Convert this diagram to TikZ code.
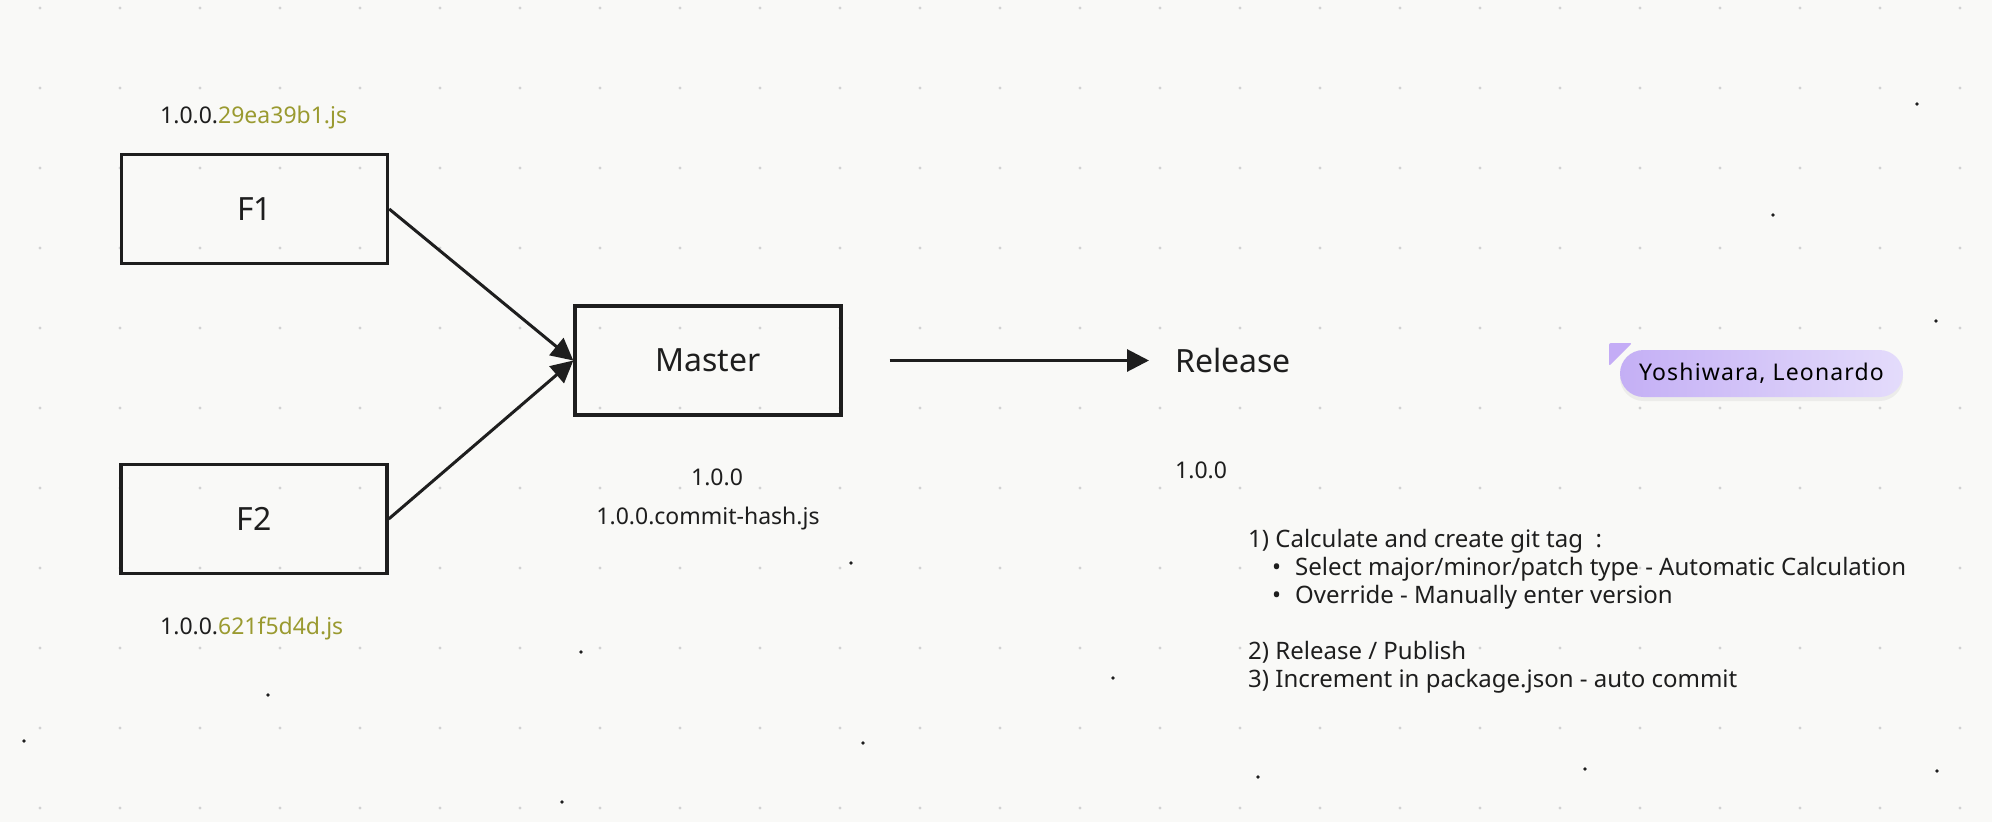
\documentclass[tikz,border=0pt]{standalone}
\usepackage{fontspec}
\setmainfont{Noto Sans}
\newfontfamily\tagfont[LetterSpace=5]{Noto Sans}
\usetikzlibrary{arrows.meta,shadows}
\definecolor{bg}{RGB}{249,249,247}
\definecolor{griddot}{RGB}{210,210,210}
\definecolor{ink}{RGB}{30,30,30}
\definecolor{olive}{RGB}{154,154,48}
\definecolor{tagL}{RGB}{196,175,245}
\definecolor{tagR}{RGB}{228,220,251}
\definecolor{tagmark}{RGB}{196,172,246}
\begin{document}
\begin{tikzpicture}[x=1pt,y=-1pt,
  box/.style={draw=ink, line width=3.4pt, minimum width=266pt, minimum height=109pt, inner sep=0pt, font=\fontsize{32}{38}\selectfont, text=ink},
  lbl/.style={inner sep=0pt, anchor=base west, font=\fontsize{23}{28}\selectfont, text=ink},
  lblc/.style={inner sep=0pt, anchor=base, font=\fontsize{23}{28}\selectfont, text=ink},
  stepline/.style={inner sep=0pt, anchor=base west, font=\fontsize{24}{28}\selectfont, text=ink},
  big/.style={inner sep=0pt, anchor=base west, font=\fontsize{32}{38}\selectfont, text=ink},
  arr/.style={draw=ink, line width=3pt, -{Triangle[length=22pt,width=22pt]}},
  tag/.style={minimum width=283pt, minimum height=47pt, inner sep=0pt, rounded corners=23.5pt,
    left color=tagL, right color=tagR, font=\tagfont\fontsize{23}{28}\selectfont, text=black,
    drop shadow={opacity=0.10, shadow xshift=0pt, shadow yshift=-4pt}}]
% background
\fill[bg] (0,0) rectangle (1992,822);
\useasboundingbox (0,0) rectangle (1992,822);
% grid dots
\foreach \i in {0,...,24}{\foreach \j in {0,...,10}{\fill[griddot] (40+80*\i,8+80*\j) circle (1.7pt);}}
% stray dots
\foreach \p in {(1917,104),(1773,215),(1936,321),(851,563),(581,652),(1113,678),(268,695),(24,741),(863,743),(1585,769),(1258,777),(1937,771),(562,802)}{\fill[ink] \p circle (1.8pt);}
% boxes
\node[box] (F1) at (254.5,209) {F1};
\node[box] (F2) at (254,519) {F2};
\node[box] (M) at (708,360.5) {Master};
\node[big] (Rel) at (1175,372) {Release};
% connectors
\draw[arr] (F1.east) -- (M.west);
\draw[arr] (F2.east) -- (M.west);
\draw[arr, shorten <=47pt, shorten >=26pt] (M.east) -- (M.east -| Rel.west);
% labels
\node[lbl] (h1) at (160,123) {1.0.0.\textcolor{olive}{29ea39b1.js}};
\node[lbl] (h2) at (160,634) {1.0.0.\textcolor{olive}{621f5d4d.js}};
\node[lblc] (mv) at (717,485) {1.0.0};
\node[lblc] (mh) at (708,524) {1.0.0.commit-hash.js};
\node[lbl] (rv) at (1175,478) {1.0.0};
% steps
\node[stepline] (s1) at (1248,547) {1) Calculate and create git tag\ \ :};
\node[stepline] (s2) at (1272,575) {\makebox[23pt][l]{•}Select major/minor/patch type - Automatic Calculation};
\node[stepline] (s3) at (1272,603) {\makebox[23pt][l]{•}Override - Manually enter version};
\node[stepline] (s4) at (1248,659) {2) Release / Publish};
\node[stepline] (s5) at (1248,687) {3) Increment in package.json - auto commit};
% tag
\node[tag] (tg) at (1761.5,373.5) {Yoshiwara, Leonardo};
\fill[tagmark, rounded corners=2pt] (1609,343) -- (1632,343) -- (1609,366) -- cycle;
\end{tikzpicture}
\end{document}
